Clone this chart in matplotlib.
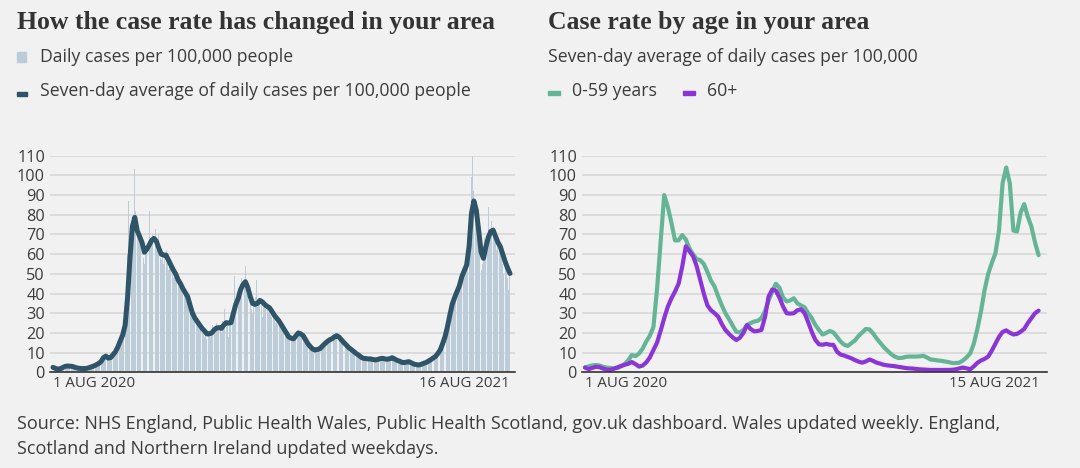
import pandas as pd
import matplotlib.pyplot as plt
import matplotlib.dates as mdates

# daily cases per 100,000 (bars), 1 Aug 2020 - 16 Aug 2021
daily_cases = [
    3, 2, 2, 1, 2, 2, 1,
    2, 3, 3, 4, 3, 3, 4,
    3, 4, 3, 3, 2, 3, 2,
    2, 2, 1, 2, 2, 3, 2,
    2, 2, 3, 2, 3, 4, 3,
    4, 4, 5, 5, 6, 5, 7,
    8, 9, 10, 7, 6, 8, 7,
    9, 10, 11, 12, 11, 14, 15,
    17, 19, 20, 22, 27, 45, 60,
    87, 70, 62, 78, 80, 103, 82,
    74, 68, 70, 65, 64, 58, 55,
    60, 62, 65, 82, 63, 66, 70,
    67, 73, 62, 66, 70, 58, 57,
    60, 55, 58, 62, 56, 52, 58,
    55, 52, 48, 50, 47, 49, 44,
    45, 43, 46, 40, 42, 39, 41,
    37, 34, 36, 31, 28, 30, 26,
    27, 24, 25, 22, 23, 20, 21,
    18, 20, 17, 19, 21, 18, 22,
    24, 20, 22, 25, 21, 23, 24,
    20, 26, 24, 32, 23, 26, 18,
    27, 26, 29, 33, 49, 34, 38,
    42, 40, 45, 48, 43, 44, 54,
    40, 39, 47, 36, 32, 30, 35,
    38, 47, 33, 36, 37, 34, 28,
    33, 36, 32, 34, 30, 31, 29,
    28, 30, 27, 25, 29, 24, 25,
    23, 25, 21, 22, 20, 18, 19,
    17, 18, 16, 18, 17, 19, 20,
    21, 19, 20, 18, 21, 17, 18,
    16, 15, 14, 13, 14, 11, 12,
    11, 12, 10, 12, 11, 13, 12,
    14, 13, 15, 14, 17, 16, 15,
    17, 19, 16, 18, 20, 17, 19,
    18, 17, 16, 15, 14, 13, 14,
    12, 13, 11, 12, 10, 11, 9,
    10, 9, 8, 9, 7, 8, 7,
    6, 7, 8, 7, 6, 7, 6,
    7, 6, 5, 7, 6, 7, 8,
    7, 8, 6, 7, 6, 7, 6,
    8, 7, 8, 7, 6, 7, 5,
    6, 5, 6, 5, 4, 5, 6,
    5, 6, 5, 4, 5, 4, 4,
    4, 3, 4, 4, 3, 4, 5,
    4, 5, 5, 6, 5, 7, 6,
    7, 8, 7, 9, 10, 9, 11,
    12, 13, 15, 17, 19, 21, 24,
    27, 30, 34, 36, 38, 40, 37,
    44, 42, 46, 48, 46, 52, 55,
    54, 58, 60, 62, 68, 99, 112,
    92, 80, 83, 75, 65, 62, 52,
    55, 60, 68, 63, 65, 84, 72,
    68, 77, 74, 70, 66, 62, 67,
    63, 66, 58, 55, 50, 58, 52,
    48, 42, 49,
]

# seven-day average, every 2nd day
avg_all = [
    2.5, 2.0, 1.6, 1.8, 2.4, 3.0, 3.2, 3.1, 3.0, 2.6,
    2.2, 2.0, 1.9, 1.9, 2.0, 2.3, 2.8, 3.2, 3.8, 4.5,
    5.5, 7.5, 8.2, 7.2, 7.5, 9.0, 10.5, 13.0, 16.0, 19.0,
    24.0, 38.0, 58.0, 74.0, 78.7, 72.0, 69.0, 66.0, 61.0, 62.5,
    64.6, 67.0, 68.0, 66.5, 63.0, 60.0, 59.5, 59.5, 57.0, 54.5,
    52.0, 50.0, 47.0, 45.0, 42.5, 40.5, 38.4, 34.0, 30.0, 27.5,
    25.7, 24.0, 22.3, 21.0, 19.5, 19.5, 20.0, 21.5, 22.5, 22.7,
    22.3, 24.0, 25.2, 25.0, 25.2, 30.0, 34.5, 37.5, 42.0, 44.5,
    46.0, 43.0, 38.5, 35.0, 34.5, 35.0, 36.5, 35.8, 34.5, 33.5,
    32.8, 31.0, 29.0, 27.5, 26.0, 24.0, 22.0, 20.0, 18.0, 17.3,
    17.0, 18.5, 20.0, 19.5, 18.6, 16.5, 14.5, 13.0, 11.8, 11.3,
    11.6, 12.0, 13.3, 14.5, 15.6, 16.5, 17.0, 18.0, 18.6, 17.8,
    16.4, 15.0, 13.8, 12.5, 11.6, 10.6, 9.6, 8.8, 7.8, 7.1,
    7.0, 6.8, 6.8, 6.5, 6.3, 6.5, 6.9, 7.1, 6.8, 6.6,
    6.9, 7.4, 6.8, 6.1, 5.7, 5.1, 4.9, 5.2, 5.4, 4.8,
    4.2, 3.9, 3.7, 4.0, 4.5, 4.9, 5.6, 6.3, 7.2, 8.0,
    9.5, 11.3, 14.5, 18.0, 23.0, 29.0, 34.5, 38.0, 41.0, 44.0,
    48.6, 51.5, 54.5, 63.8, 80.7, 87.0, 82.4, 72.0, 61.0, 57.9,
    63.8, 68.5, 71.5, 72.2, 69.0, 66.0, 63.8, 60.0, 56.2, 53.0,
    50.2,
]

# seven-day average by age, every 3rd day, 1 Aug 2020 - 15 Aug 2021
age_0_59 = [
    2.5, 3.0, 3.5, 3.7, 3.5, 2.8, 2.4, 2.2, 2.0, 2.1,
    3.0, 4.2, 6.0, 8.8, 8.2, 9.5, 12.0, 15.6, 18.5, 23.0,
    42.0, 66.0, 90.0, 84.0, 76.0, 67.0, 67.0, 69.7, 67.5, 63.0,
    60.0, 57.5, 57.0, 55.0, 51.0, 46.5, 43.5, 38.5, 34.0, 30.0,
    27.0, 23.8, 20.6, 20.2, 21.5, 24.0, 25.0, 25.8, 26.2, 27.5,
    31.0, 36.5, 41.0, 45.0, 43.0, 38.0, 36.0, 36.5, 37.6, 35.0,
    34.0, 33.0, 30.0, 27.5, 24.0, 21.5, 19.2, 20.0, 21.0, 20.2,
    18.0, 15.6, 14.0, 13.4, 14.8, 16.2, 18.5, 20.2, 22.0, 21.8,
    19.8, 17.2, 15.0, 12.8, 11.0, 9.3, 8.0, 7.3, 7.3, 7.8,
    8.0, 8.0, 8.0, 8.1, 8.4, 7.5, 6.5, 6.3, 6.0, 5.8,
    5.5, 5.2, 4.7, 4.7, 4.9, 6.0, 7.6, 9.6, 14.5, 22.0,
    31.0, 41.8, 50.0, 55.5, 60.4, 72.0, 96.0, 104.0, 96.0, 72.0,
    71.5, 81.0, 85.4, 79.0, 74.0, 66.0, 59.5,
]
age_60_plus = [
    2.4, 1.6, 2.2, 2.8, 2.6, 1.9, 1.4, 1.2, 1.8, 2.5,
    3.2, 3.8, 4.3, 5.2, 4.2, 2.9, 3.4, 5.0, 7.5, 11.3,
    15.0, 21.0, 27.5, 33.3, 37.5, 41.0, 45.0, 53.6, 64.0, 61.5,
    59.0, 54.0, 47.0, 40.0, 34.0, 31.5, 30.0, 28.3, 24.5, 21.5,
    19.5, 17.8, 16.4, 17.5, 20.0, 24.0, 22.0, 20.8, 21.0, 21.5,
    28.0, 38.5, 42.0, 41.5, 38.0, 33.5, 30.0, 29.8, 30.0, 31.5,
    32.0, 30.0, 25.5, 20.5, 16.4, 14.2, 14.0, 14.4, 14.0, 13.9,
    10.5, 9.0, 8.5, 7.8, 7.1, 6.2, 5.4, 4.9, 5.5, 6.5,
    5.8, 4.9, 4.4, 3.8, 3.5, 3.3, 3.1, 2.8, 2.5, 2.2,
    2.0, 1.9, 1.7, 1.5, 1.4, 1.3, 1.2, 1.2, 1.2, 1.2,
    1.2, 1.2, 1.3, 1.5, 2.0, 2.4, 2.0, 1.5, 3.0, 4.8,
    6.0, 6.8, 8.0, 11.0, 14.5, 18.0, 20.5, 21.3, 20.1, 19.2,
    19.5, 20.6, 22.0, 25.0, 27.5, 30.0, 31.3,
]

y_ticks = list(range(0, 111, 10))

start = pd.Timestamp('2020-08-01')
end_left = pd.Timestamp('2021-08-16')
end_right = pd.Timestamp('2021-08-15')
bar_dates = pd.date_range(start, periods=len(daily_cases), freq='D')
avg_dates = pd.date_range(start, periods=len(avg_all), freq='2D')
age_dates = pd.date_range(start, periods=len(age_0_59), freq='3D')

BG = '#f1f1f1'
TXT = '#3c3c3c'
GRID = '#d6d6d6'
BAR = '#bccdd9'
DARK = '#2f5468'
GREEN = '#64b596'
PURPLE = '#8b35d6'

fig = plt.figure(figsize=(10.8, 4.68), dpi=100, facecolor=BG)


def style_axes(ax, x0, x1, labels):
    ax.set_facecolor(BG)
    ax.set_ylim(0, 110)
    ax.set_xlim(x0, x1)
    ax.set_yticks(y_ticks)
    ax.yaxis.grid(True, color=GRID, lw=1.1)
    ax.set_axisbelow(True)
    for s in ['top', 'right', 'left']:
        ax.spines[s].set_visible(False)
    ax.spines['bottom'].set_color('#333333')
    ax.spines['bottom'].set_linewidth(1.2)
    ax.tick_params(axis='y', length=0, pad=3.6, labelsize=11.7, labelcolor=TXT)
    ax.tick_params(axis='x', length=0, pad=3, labelsize=10.8, labelcolor=TXT)
    ax.set_xticks([mdates.date2num(d) for d, _ in labels])
    ax.set_xticklabels([t for _, t in labels])
    tl = ax.get_xticklabels()
    tl[0].set_ha('left')
    tl[1].set_ha('right')
    for t in ax.get_yticklabels() + tl:
        t.set_fontfamily('Open Sans')


# left panel
ax1 = fig.add_axes([50 / 1080, 0.2045, 465 / 1080, 0.4628])
ax1.bar(bar_dates, daily_cases, width=0.8, color=BAR, linewidth=0)
ax1.plot(avg_dates, avg_all, color=DARK, lw=3.6, solid_capstyle='round',
         solid_joinstyle='round')
style_axes(ax1, start - pd.Timedelta(days=2.5), start + pd.Timedelta(days=384.2),
           [(start, '1 AUG 2020'), (end_left, '16 AUG 2021')])

# right panel
ax2 = fig.add_axes([582 / 1080, 0.2045, 465 / 1080, 0.4628])
ax2.plot(age_dates, age_0_59, color=GREEN, lw=3.0, solid_capstyle='round',
         solid_joinstyle='round')
ax2.plot(age_dates, age_60_plus, color=PURPLE, lw=3.0, solid_capstyle='round',
         solid_joinstyle='round')
style_axes(ax2, start - pd.Timedelta(days=2.5), start + pd.Timedelta(days=385),
           [(start, '1 AUG 2020'), (end_right, '15 AUG 2021')])

# titles and legends
title_kw = dict(fontsize=18.5, fontweight='bold', color='#333333',
                family='Liberation Serif', va='center', ha='left')
fig.text(17 / 1080, 1 - 22 / 468, 'How the case rate has changed in your area', **title_kw)
fig.text(548 / 1080, 1 - 22 / 468, 'Case rate by age in your area', **title_kw)

sans = dict(fontsize=12.7, color=TXT, family='Open Sans', va='center', ha='left')
fig.patches.append(plt.Rectangle((17 / 1080, 1 - 62 / 468), 9 / 1080, 10 / 468,
                                 transform=fig.transFigure, color=BAR))
fig.text(40 / 1080, 1 - 57 / 468, 'Daily cases per 100,000 people', **sans)
fig.patches.append(plt.Rectangle((17 / 1080, 1 - 96 / 468), 10 / 1080, 4 / 468,
                                 transform=fig.transFigure, color=DARK))
fig.text(40 / 1080, 1 - 91 / 468, 'Seven-day average of daily cases per 100,000 people', **sans)

fig.text(548 / 1080, 1 - 57 / 468, 'Seven-day average of daily cases per 100,000', **sans)
fig.patches.append(plt.Rectangle((548 / 1080, 1 - 95 / 468), 12 / 1080, 4 / 468,
                                 transform=fig.transFigure, color=GREEN))
fig.text(572 / 1080, 1 - 91 / 468, '0-59 years', **sans)
fig.patches.append(plt.Rectangle((683 / 1080, 1 - 95 / 468), 12 / 1080, 4 / 468,
                                 transform=fig.transFigure, color=PURPLE))
fig.text(707 / 1080, 1 - 91 / 468, '60+', **sans)

# footer
foot = dict(fontsize=13, color=TXT, family='Open Sans', va='center', ha='left')
fig.text(17 / 1080, 1 - 424 / 468,
         'Source: NHS England, Public Health Wales, Public Health Scotland, gov.uk dashboard. '
         'Wales updated weekly. England,', **foot)
fig.text(17 / 1080, 1 - 449 / 468,
         'Scotland and Northern Ireland updated weekdays.', **foot)

fig.savefig('out.png', dpi=100, facecolor=BG)
